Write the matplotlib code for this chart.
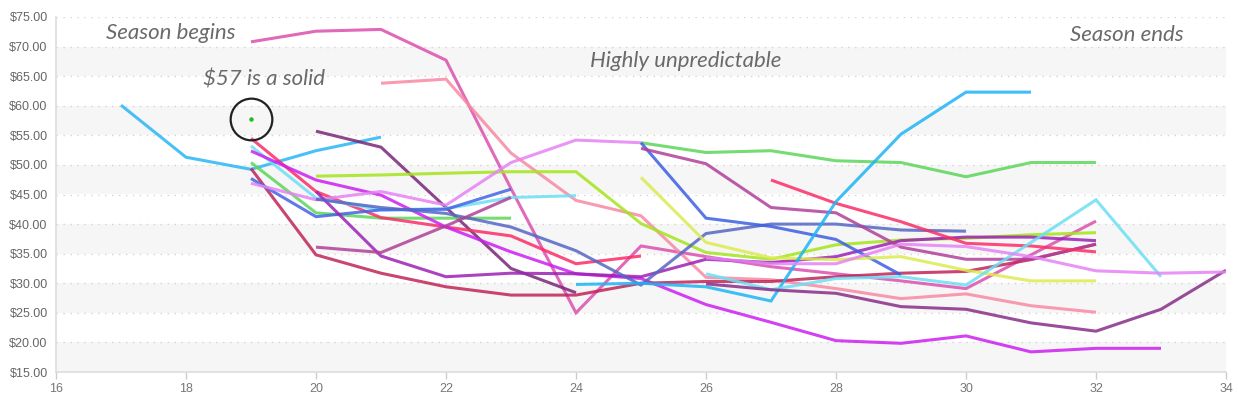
import matplotlib
matplotlib.use("Agg")
import matplotlib.pyplot as plt
from matplotlib.ticker import FuncFormatter

# ---------------- data ----------------
sky_a_x = [17, 18, 19, 20, 21]
sky_a_y = [60.1, 51.3, 49.25, 52.4, 54.7]

pink_x = [19, 20, 21, 22, 23, 24, 25, 26, 27, 28, 29, 30, 31, 32]
pink_y = [70.8, 72.6, 72.9, 67.7, 46.0, 25.0, 36.3, 34.5, 32.8, 31.6, 30.4, 29.1, 34.8, 40.5]

salmon_x = [21, 22, 23, 24, 25, 26, 27, 28, 29, 30, 31, 32]
salmon_y = [63.8, 64.5, 52.0, 44.0, 41.4, 31.0, 30.6, 29.1, 27.4, 28.2, 26.2, 25.1]

dpurple_a_x = [20, 21, 22, 23, 24]
dpurple_a_y = [55.7, 53.0, 42.8, 32.5, 28.4]

lime_x = [20, 21, 22, 23, 24, 25, 26, 27, 28, 29, 30, 31, 32]
lime_y = [48.1, 48.3, 48.6, 48.85, 48.85, 40.1, 35.2, 34.05, 36.5, 37.3, 37.6, 38.2, 38.55]

green_a_x = [19, 20, 21, 22, 23]
green_a_y = [50.4, 41.9, 41.0, 41.0, 41.0]

red_a_x = [19, 20, 21, 22, 23, 24, 25]
red_a_y = [54.5, 45.5, 41.1, 39.5, 38.0, 33.3, 34.6]

cyan_a_x = [19, 20, 21, 22, 23, 24]
cyan_a_y = [53.2, 44.4, 42.4, 42.6, 44.5, 44.8]

purple_a_x = [19, 20, 21, 22, 23, 24, 25, 26, 27, 28, 29, 30, 31, 32, 33]
purple_a_y = [52.35, 47.45, 44.9, 39.5, 35.3, 31.6, 30.8, 26.4, 23.4, 20.3, 19.85, 21.1, 18.4, 19.0, 19.0]

crimson_x = [19, 20, 21, 22, 23, 24, 25, 26, 27, 28, 29, 30, 31, 32]
crimson_y = [49.4, 34.8, 31.7, 29.4, 28.0, 28.0, 30.0, 30.3, 30.3, 31.1, 31.7, 32.0, 34.0, 36.6]

blue_a_x = [19, 20, 21, 22, 23]
blue_a_y = [47.7, 41.25, 42.4, 42.5, 45.9]

violet_a_x = [19, 20, 21, 22, 23, 24, 25]
violet_a_y = [46.9, 44.1, 45.5, 43.2, 50.4, 54.2, 53.75]

purple_b_x = [20, 21, 22, 23, 24, 25, 26, 27, 28, 29, 30, 31, 32]
purple_b_y = [45.5, 34.6, 31.1, 31.7, 31.6, 31.1, 34.05, 33.5, 34.5, 37.2, 37.8, 37.8, 37.2]

slate_x = [20, 21, 22, 23, 24, 25, 26, 27, 28, 29, 30]
slate_y = [44.2, 42.8, 41.8, 39.5, 35.5, 29.7, 38.4, 40.0, 40.0, 39.0, 38.8]

plum_a_x = [20, 21, 22, 23]
plum_a_y = [36.1, 35.2, 39.7, 44.5]

green_b_x = [25, 26, 27, 28, 29, 30, 31, 32]
green_b_y = [53.75, 52.1, 52.4, 50.7, 50.4, 48.0, 50.4, 50.4]

blue_b_x = [25, 26, 27, 28, 29]
blue_b_y = [53.75, 41.0, 39.6, 37.4, 31.4]

plum_b_x = [25, 26, 27, 28, 29, 30, 31, 32]
plum_b_y = [52.8, 50.2, 42.8, 41.9, 36.1, 34.05, 34.05, 36.6]

red_b_x = [27, 28, 29, 30, 31, 32]
red_b_y = [47.45, 43.5, 40.4, 36.75, 36.3, 35.3]

yellow_x = [25, 26, 27, 28, 29, 30, 31, 32]
yellow_y = [47.9, 36.9, 34.3, 34.0, 34.5, 32.2, 30.4, 30.4]

sky_b_x = [24, 25, 26, 27, 28, 29, 30, 31]
sky_b_y = [29.8, 30.0, 29.4, 27.0, 43.8, 55.2, 62.3, 62.3]

cyan_b_x = [26, 27, 28, 29, 30, 31, 32, 33]
cyan_b_y = [31.6, 28.9, 30.8, 31.1, 29.7, 36.9, 44.1, 31.1]

dpurple_b_x = [26, 27, 28, 29, 30, 31, 32, 33, 34]
dpurple_b_y = [29.9, 28.9, 28.3, 26.05, 25.6, 23.3, 21.9, 25.6, 32.2]

violet_b_x = [26, 27, 28, 29, 30, 31, 32, 33, 34]
violet_b_y = [34.3, 33.3, 33.3, 36.6, 36.2, 34.5, 32.1, 31.7, 31.9]

highlight_x = [19]
highlight_y = [57.7]

notes = ["Season begins", "$57 is a solid", "Highly unpredictable", "Season ends"]
notes_x = [17.77, 19.2, 25.68, 32.48]
notes_y = [72.3, 64.4, 67.6, 71.9]

x_ticks = [16, 18, 20, 22, 24, 26, 28, 30, 32, 34]
y_ticks = [15, 20, 25, 30, 35, 40, 45, 50, 55, 60, 65, 70, 75]

series = [
    (sky_a_x, sky_a_y, "#29b6f6"),
    (pink_x, pink_y, "#dc4fad"),
    (salmon_x, salmon_y, "#f88aa3"),
    (dpurple_a_x, dpurple_a_y, "#7a2678"),
    (lime_x, lime_y, "#a5e51d"),
    (green_a_x, green_a_y, "#5cd65a"),
    (red_a_x, red_a_y, "#fa2e66"),
    (cyan_a_x, cyan_a_y, "#6ddff4"),
    (purple_a_x, purple_a_y, "#cc1ff0"),
    (crimson_x, crimson_y, "#bf2557"),
    (blue_a_x, blue_a_y, "#4464e6"),
    (violet_a_x, violet_a_y, "#e583f5"),
    (purple_b_x, purple_b_y, "#9c22b5"),
    (slate_x, slate_y, "#5566c4"),
    (plum_a_x, plum_a_y, "#b0409a"),
    (green_b_x, green_b_y, "#5cd65a"),
    (blue_b_x, blue_b_y, "#3d5fe3"),
    (plum_b_x, plum_b_y, "#b0409a"),
    (red_b_x, red_b_y, "#fa2e66"),
    (yellow_x, yellow_y, "#dbeb4f"),
    (sky_b_x, sky_b_y, "#1fb3f5"),
    (cyan_b_x, cyan_b_y, "#6ddff4"),
    (dpurple_b_x, dpurple_b_y, "#882e88"),
    (violet_b_x, violet_b_y, "#e583f5"),
]

# ---------------- figure ----------------
W, H = 1238, 399
fig = plt.figure(figsize=(W / 100, H / 100), dpi=100)
ax = fig.add_axes([56 / W, 1 - 372 / H, (1226 - 56) / W, (372 - 17) / H])
ax.set_xlim(16, 34)
ax.set_ylim(15, 75)

# alternating bands
for lo in range(15, 75, 10):
    ax.axhspan(lo, lo + 5, color="#f6f6f6", zorder=0, lw=0)

# dotted grid
for v in y_ticks:
    ax.axhline(v, color="#d4d4d4", lw=1.0, ls=(0, (1, 4)), zorder=1)

for xs, ys, c in series:
    ax.plot(xs, ys, color=c, lw=2.2, alpha=0.85, solid_capstyle="butt",
            solid_joinstyle="miter", zorder=3)

# highlighted point
ax.plot(highlight_x, highlight_y, "o", ms=30, mfc="none", mec="#222222",
        mew=1.6, zorder=5)
ax.plot(highlight_x, highlight_y, "o", ms=2.2, color="#22bb22", zorder=6)

hand = dict(family=["Lato", "DejaVu Sans"], style="italic", weight="normal",
            color="#6a6a6a", fontsize=16, ha="center", va="center", zorder=7)
for t, tx, ty in zip(notes, notes_x, notes_y):
    ax.text(tx, ty, t, **hand)

# axes styling
for s in ["top", "right"]:
    ax.spines[s].set_visible(False)
for s in ["left", "bottom"]:
    ax.spines[s].set_color("#dddddd")
    ax.spines[s].set_linewidth(1.2)

ax.set_xticks(x_ticks)
ax.set_yticks(y_ticks)
ax.yaxis.set_major_formatter(FuncFormatter(lambda v, p: f"${v:.2f}"))
ax.tick_params(axis="y", length=0, pad=6, labelsize=9, labelcolor="#666666")
ax.tick_params(axis="x", length=5, width=1, color="#cccccc", pad=3,
               labelsize=9, labelcolor="#777777")
for lab in ax.get_xticklabels() + ax.get_yticklabels():
    lab.set_family(["Liberation Sans", "DejaVu Sans"])

fig.savefig("out.png", dpi=100, facecolor="white")
